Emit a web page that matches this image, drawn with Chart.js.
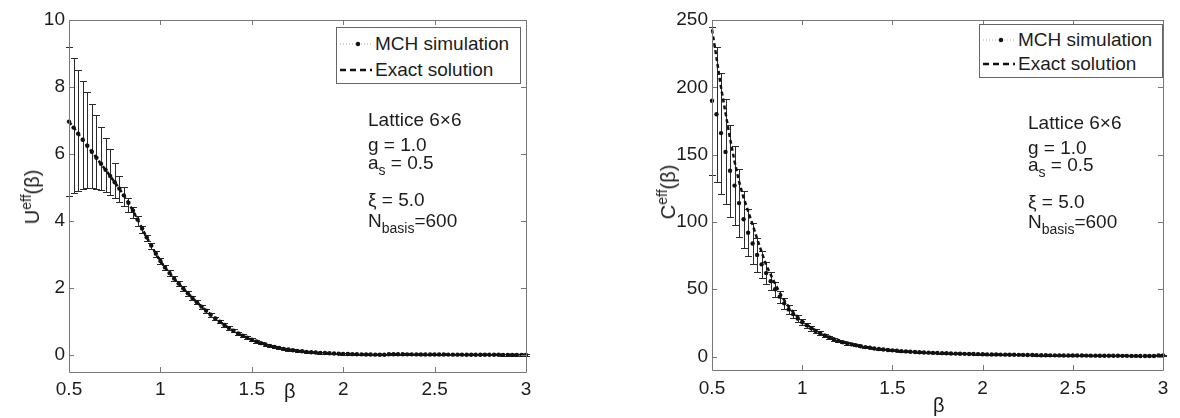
<!DOCTYPE html>
<html lang="en">
<head>
<meta charset="UTF-8" />
<title>Effective energy and heat capacity vs beta</title>
<script src="https://cdn.jsdelivr.net/npm/chart.js"></script>
<style>
  body { margin: 0; background: #fff; }
  #wrap {
    position: relative;
    width: 1180px;
    height: 418px;
    overflow: hidden;
    font-family: "Liberation Sans", Arial, sans-serif;
    color: #1c1c1c;
  }
  canvas { position: absolute; top: 0; }
  #cU { left: 0; }
  #cC { left: 590px; }
  .txt { position: absolute; white-space: nowrap; font-size: 19px; line-height: 1; z-index: 2; }
  .txt sub { font-size: 14px; vertical-align: -6px; line-height: 0; }
  .txt sup { font-size: 14px; vertical-align: 8px; line-height: 0; }
  .ytitle { font-size: 20px; transform: translate(-50%, -50%) rotate(-90deg); }
  .legend { position: absolute; border: 1px solid #666; background: #fff; z-index: 2; }
  .legend .row { position: absolute; left: 0; display: flex; align-items: center; font-size: 19px; height: 20px; }
  .legend svg { margin-left: 3px; margin-right: 3px; }
</style>
</head>
<body>
<div id="wrap">
  <canvas id="cU" width="590" height="418"></canvas>
  <canvas id="cC" width="590" height="418"></canvas>

  <!-- left panel text -->
  <div class="txt ytitle" style="left:32px; top:197px;">U<sup>eff</sup>(β)</div>
  <div class="txt" style="left:284px; top:381px; font-size:20px;">β</div>
  <div class="legend" style="left:336px; top:27px; width:183px; height:55px;">
    <div class="row" style="top:6px;">
      <svg width="32" height="10"><line x1="0" y1="5" x2="32" y2="5" stroke="#aaa" stroke-width="1" stroke-dasharray="1,2"/><circle cx="18" cy="5" r="2.2" fill="#111"/></svg>MCH simulation
    </div>
    <div class="row" style="top:32px;">
      <svg width="32" height="10"><line x1="0" y1="5" x2="32" y2="5" stroke="#111" stroke-width="2.5" stroke-dasharray="6,4"/></svg>Exact solution
    </div>
  </div>
  <div class="txt" style="left:368px; top:110px;">Lattice 6×6</div>
  <div class="txt" style="left:368px; top:135px;">g = 1.0</div>
  <div class="txt" style="left:368px; top:153px;">a<sub>s</sub> = 0.5</div>
  <div class="txt" style="left:368px; top:190px;">ξ = 5.0</div>
  <div class="txt" style="left:368px; top:211px;">N<sub>basis</sub>=600</div>

  <!-- right panel text -->
  <div class="txt ytitle" style="left:668px; top:192px;">C<sup>eff</sup>(β)</div>
  <div class="txt" style="left:933px; top:395px; font-size:20px;">β</div>
  <div class="legend" style="left:979px; top:24px; width:182px; height:52px;">
    <div class="row" style="top:5px;">
      <svg width="32" height="10"><line x1="0" y1="5" x2="32" y2="5" stroke="#aaa" stroke-width="1" stroke-dasharray="1,2"/><circle cx="18" cy="5" r="2.2" fill="#111"/></svg>MCH simulation
    </div>
    <div class="row" style="top:29px;">
      <svg width="32" height="10"><line x1="0" y1="5" x2="32" y2="5" stroke="#111" stroke-width="2.5" stroke-dasharray="6,4"/></svg>Exact solution
    </div>
  </div>
  <div class="txt" style="left:1028px; top:113px;">Lattice 6×6</div>
  <div class="txt" style="left:1028px; top:138px;">g = 1.0</div>
  <div class="txt" style="left:1028px; top:155px;">a<sub>s</sub> = 0.5</div>
  <div class="txt" style="left:1028px; top:192px;">ξ = 5.0</div>
  <div class="txt" style="left:1028px; top:212px;">N<sub>basis</sub>=600</div>
</div>

<script>
// inverse temperature grid
const beta = [
  0.5, 0.525, 0.55, 0.575, 0.6, 0.625, 0.65, 0.675, 0.7, 0.725,
  0.75, 0.775, 0.8, 0.825, 0.85, 0.875, 0.9, 0.925, 0.95, 0.975,
  1, 1.025, 1.05, 1.075, 1.1, 1.125, 1.15, 1.175, 1.2, 1.225,
  1.25, 1.275, 1.3, 1.325, 1.35, 1.375, 1.4, 1.425, 1.45, 1.475,
  1.5, 1.525, 1.55, 1.575, 1.6, 1.625, 1.65, 1.675, 1.7, 1.725,
  1.75, 1.775, 1.8, 1.825, 1.85, 1.875, 1.9, 1.925, 1.95, 1.975,
  2, 2.025, 2.05, 2.075, 2.1, 2.125, 2.15, 2.175, 2.2, 2.225,
  2.25, 2.275, 2.3, 2.325, 2.35, 2.375, 2.4, 2.425, 2.45, 2.475,
  2.5, 2.525, 2.55, 2.575, 2.6, 2.625, 2.65, 2.675, 2.7, 2.725,
  2.75, 2.775, 2.8, 2.825, 2.85, 2.875, 2.9, 2.925, 2.95, 2.975,
  3
];

// U_eff: MCH mean, error bar (up / down)
const mchU = [
  6.97, 6.79, 6.61, 6.43, 6.25, 6.07, 5.89, 5.71, 5.53, 5.35,
  5.16, 4.97, 4.77, 4.55, 4.31, 4.05, 3.78, 3.52, 3.27, 3.03,
  2.81, 2.62, 2.45, 2.29, 2.14, 1.99, 1.85, 1.71, 1.58, 1.45,
  1.33, 1.21, 1.10, 1.00, 0.90, 0.81, 0.73, 0.65, 0.58, 0.52,
  0.46, 0.41, 0.36, 0.32, 0.28, 0.25, 0.22, 0.19, 0.17, 0.15,
  0.13, 0.12, 0.10, 0.09, 0.08, 0.07, 0.065, 0.06, 0.05, 0.045,
  0.04, 0.036, 0.032, 0.029, 0.026, 0.023, 0.02, 0.018, 0.016, 0.014,
  0.03, 0.03, 0.029, 0.028, 0.027, 0.026, 0.025, 0.024, 0.023, 0.022,
  0.021, 0.02, 0.02, 0.019, 0.018, 0.018, 0.017, 0.016, 0.016, 0.015,
  0.015, 0.014, 0.014, 0.013, 0.013, 0.012, 0.012, 0.012, 0.011, 0.011,
  0.011
];
const errHiU = [
  2.23, 2.07, 1.91, 1.75, 1.59, 1.43, 1.27, 1.11, 0.95, 0.79,
  0.56, 0.39, 0.25, 0.15, 0.11, 0.09, 0.08, 0.08, 0.08, 0.08,
  0.08, 0.08, 0.08, 0.07, 0.07, 0.07, 0.07, 0.06, 0.06, 0.06,
  0.06, 0.06, 0.05, 0.05, 0.05, 0.05, 0.05, 0.04, 0.04, 0.04,
  0.04, 0.04, 0.03, 0.03, 0.03, 0.03, 0.03, 0.03, 0.03, 0.03,
  0.02, 0.02, 0.02, 0.02, 0.02, 0.02, 0.02, 0.02, 0.02, 0.02,
  0.02, 0.02, 0.02, 0.02, 0.02, 0.02, 0.02, 0.02, 0.02, 0.02,
  0.02, 0.02, 0.02, 0.02, 0.02, 0.02, 0.02, 0.02, 0.02, 0.02,
  0.02, 0.02, 0.02, 0.02, 0.02, 0.02, 0.02, 0.02, 0.02, 0.02,
  0.02, 0.02, 0.02, 0.02, 0.02, 0.02, 0.02, 0.02, 0.02, 0.02,
  0.02
];
const errLoU = [
  2.21, 1.95, 1.71, 1.48, 1.27, 1.09, 0.93, 0.79, 0.67, 0.56,
  0.46, 0.39, 0.33, 0.28, 0.23, 0.18, 0.14, 0.12, 0.10, 0.09,
  0.08, 0.08, 0.08, 0.07, 0.07, 0.07, 0.07, 0.06, 0.06, 0.06,
  0.06, 0.06, 0.05, 0.05, 0.05, 0.05, 0.05, 0.04, 0.04, 0.04,
  0.04, 0.04, 0.03, 0.03, 0.03, 0.03, 0.03, 0.03, 0.03, 0.03,
  0.02, 0.02, 0.02, 0.02, 0.02, 0.02, 0.02, 0.02, 0.02, 0.02,
  0.02, 0.02, 0.02, 0.02, 0.02, 0.02, 0.02, 0.02, 0.02, 0.02,
  0.02, 0.02, 0.02, 0.02, 0.02, 0.02, 0.02, 0.02, 0.02, 0.02,
  0.02, 0.02, 0.02, 0.02, 0.02, 0.02, 0.02, 0.02, 0.02, 0.02,
  0.02, 0.02, 0.02, 0.02, 0.02, 0.02, 0.02, 0.02, 0.02, 0.02,
  0.02
];
// exact curve sits right under the MCH points on this panel
const exactU = mchU;

// C_eff: exact solution, MCH mean and symmetric error
const exactC = [
  243, 222, 200, 181, 162, 145, 130, 118, 108, 98,
  87.5, 77.7, 68, 61, 54, 47.5, 42, 37, 33, 29.5,
  26.5, 23.8, 21.4, 19.3, 17.4, 15.7, 14.2, 12.9, 11.7, 10.7,
  9.8, 9.0, 8.3, 7.6, 7.0, 6.5, 6.0, 5.6, 5.2, 4.9,
  4.6, 4.3, 4.0, 3.8, 3.6, 3.4, 3.2, 3.0, 2.9, 2.7,
  2.6, 2.5, 2.4, 2.3, 2.2, 2.1, 2.0, 1.9, 1.85, 1.8,
  1.7, 1.6, 1.55, 1.5, 1.45, 1.4, 1.35, 1.3, 1.25, 1.2,
  1.15, 1.1, 1.05, 1.0, 0.95, 0.9, 0.88, 0.85, 0.82, 0.8,
  0.77, 0.74, 0.72, 0.7, 0.67, 0.65, 0.62, 0.6, 0.58, 0.56,
  0.54, 0.52, 0.5, 0.48, 0.46, 0.45, 0.43, 0.42, 0.4, 0.8,
  0.9
];
const mchC = [
  190, 180, 166, 152, 138, 127, 114, 102, 92, 84,
  75.5, 68.5, 62, 56, 50, 44.5, 39.5, 35, 31.5, 28.3,
  25.5, 23.2, 21.0, 19.0, 17.2, 15.6, 14.1, 12.8, 11.6, 10.6,
  9.7, 9.0, 8.3, 7.6, 7.0, 6.5, 6.0, 5.6, 5.2, 4.9,
  4.6, 4.3, 4.0, 3.8, 3.6, 3.4, 3.2, 3.0, 2.9, 2.7,
  2.6, 2.5, 2.4, 2.3, 2.2, 2.1, 2.0, 1.9, 1.85, 1.8,
  1.7, 1.6, 1.55, 1.5, 1.45, 1.4, 1.35, 1.3, 1.25, 1.2,
  1.15, 1.1, 1.05, 1.0, 0.95, 0.9, 0.88, 0.85, 0.82, 0.8,
  0.77, 0.74, 0.72, 0.7, 0.67, 0.65, 0.62, 0.6, 0.58, 0.56,
  0.54, 0.52, 0.5, 0.48, 0.46, 0.45, 0.43, 0.42, 0.4, 0.8,
  0.9
];
const errC = [
  55, 50, 45, 39, 34, 29.5, 25, 21, 17.5, 15,
  12.5, 10, 8, 6.5, 5.5, 4.5, 4, 3.5, 3, 2.5,
  2.2, 2, 1.8, 1.6, 1.5, 1.3, 1.2, 1.1, 1, 0.9,
  0.8, 0.7, 0.7, 0.6, 0.6, 0.5, 0.5, 0.5, 0.4, 0.4,
  0.4, 0.3, 0.3, 0.3, 0.3, 0.3, 0.3, 0.3, 0.3, 0.3,
  0.3, 0.3, 0.3, 0.3, 0.3, 0.3, 0.3, 0.3, 0.3, 0.3,
  0.3, 0.3, 0.3, 0.3, 0.3, 0.3, 0.3, 0.3, 0.3, 0.3,
  0.3, 0.3, 0.3, 0.3, 0.3, 0.3, 0.3, 0.3, 0.3, 0.3,
  0.3, 0.3, 0.3, 0.3, 0.3, 0.3, 0.3, 0.3, 0.3, 0.3,
  0.3, 0.3, 0.3, 0.3, 0.3, 0.3, 0.3, 0.3, 0.3, 0.3,
  0.3
];

// tick labels
const xTicks = [0.5, 1, 1.5, 2, 2.5, 3];
const yTicksU = [0, 2, 4, 6, 8, 10];
const yTicksC = [0, 50, 100, 150, 200, 250];

const toPts = vals => beta.map((b, i) => ({ x: b, y: vals[i] }));

// vertical error bars with caps, drawn under the markers
const errorBarPlugin = {
  id: 'errorBars',
  beforeDatasetsDraw(chart) {
    const ds = chart.data.datasets.find(d => d.errHi);
    if (!ds) return;
    const { ctx, scales: { x, y } } = chart;
    ctx.save();
    ctx.strokeStyle = '#2b2b2b';
    ctx.lineWidth = 1;
    ctx.beginPath();
    ds.data.forEach((p, i) => {
      const px = Math.round(x.getPixelForValue(p.x)) + 0.5;
      const top = Math.round(y.getPixelForValue(p.y + ds.errHi[i])) + 0.5;
      const bot = Math.round(y.getPixelForValue(p.y - ds.errLo[i])) + 0.5;
      ctx.moveTo(px, top); ctx.lineTo(px, bot);
      ctx.moveTo(px - 3.5, top); ctx.lineTo(px + 3.5, top);
      ctx.moveTo(px - 3.5, bot); ctx.lineTo(px + 3.5, bot);
    });
    ctx.stroke();
    ctx.restore();
  }
};

// matlab-like box with inward ticks on all four sides
const framePlugin = {
  id: 'frame',
  afterDraw(chart) {
    const { ctx, chartArea: a, scales: { x, y } } = chart;
    ctx.save();
    ctx.strokeStyle = '#777';
    ctx.lineWidth = 1;
    ctx.beginPath();
    ctx.rect(Math.round(a.left) + 0.5, Math.round(a.top) + 0.5,
             Math.round(a.width), Math.round(a.height));
    x.ticks.forEach(t => {
      const px = Math.round(x.getPixelForValue(t.value)) + 0.5;
      ctx.moveTo(px, a.bottom); ctx.lineTo(px, a.bottom - 5);
      ctx.moveTo(px, a.top); ctx.lineTo(px, a.top + 5);
    });
    y.ticks.forEach(t => {
      const py = Math.round(y.getPixelForValue(t.value)) + 0.5;
      ctx.moveTo(a.left, py); ctx.lineTo(a.left + 5, py);
      ctx.moveTo(a.right, py); ctx.lineTo(a.right - 5, py);
    });
    ctx.stroke();
    ctx.restore();
  }
};

const tickFont = { family: '"Liberation Sans", Arial, sans-serif', size: 19 };

function makeChart(id, mch, errLo, errHi, exact, yMin, yMax, yTicks, yWidth, padRight, xHeight, xPad) {
  return new Chart(document.getElementById(id), {
    type: 'scatter',
    data: {
      datasets: [
        {
          label: 'Exact solution',
          data: toPts(exact),
          showLine: true,
          borderColor: '#111',
          borderWidth: 2.5,
          borderDash: [4, 3],
          pointRadius: 0,
          clip: false
        },
        {
          label: 'MCH simulation',
          data: toPts(mch),
          errLo: errLo,
          errHi: errHi,
          showLine: false,
          pointRadius: 2.2,
          pointBackgroundColor: '#111',
          pointBorderWidth: 0,
          clip: false
        }
      ]
    },
    options: {
      responsive: false,
      animation: false,
      devicePixelRatio: 1,
      layout: { padding: { top: 20, right: padRight, left: 0, bottom: 0 }, autoPadding: false },
      plugins: { legend: { display: false }, tooltip: { enabled: false } },
      scales: {
        x: {
          type: 'linear',
          min: 0.5, max: 3,
          afterBuildTicks: s => { s.ticks = xTicks.map(v => ({ value: v })); },
          afterFit: s => { s.height = xHeight; },
          grid: { display: false, drawTicks: false },
          border: { display: false },
          ticks: { font: tickFont, color: '#1c1c1c', padding: xPad, maxRotation: 0,
                   callback: v => String(v) }
        },
        y: {
          type: 'linear',
          min: yMin, max: yMax,
          afterBuildTicks: s => { s.ticks = yTicks.map(v => ({ value: v })); },
          afterFit: s => { s.width = yWidth; },
          grid: { display: false, drawTicks: false },
          border: { display: false },
          ticks: { font: tickFont, color: '#1c1c1c', padding: 4,
                   callback: v => String(v) }
        }
      }
    },
    plugins: [errorBarPlugin, framePlugin]
  });
}

makeChart('cU', mchU, errLoU, errHiU, exactU, -0.5, 10, yTicksU, 69, 64, 46, 6);
makeChart('cC', mchC, errC, errC, exactC, -10, 250, yTicksC, 122, 17, 48, 7);
</script>
</body>
</html>
